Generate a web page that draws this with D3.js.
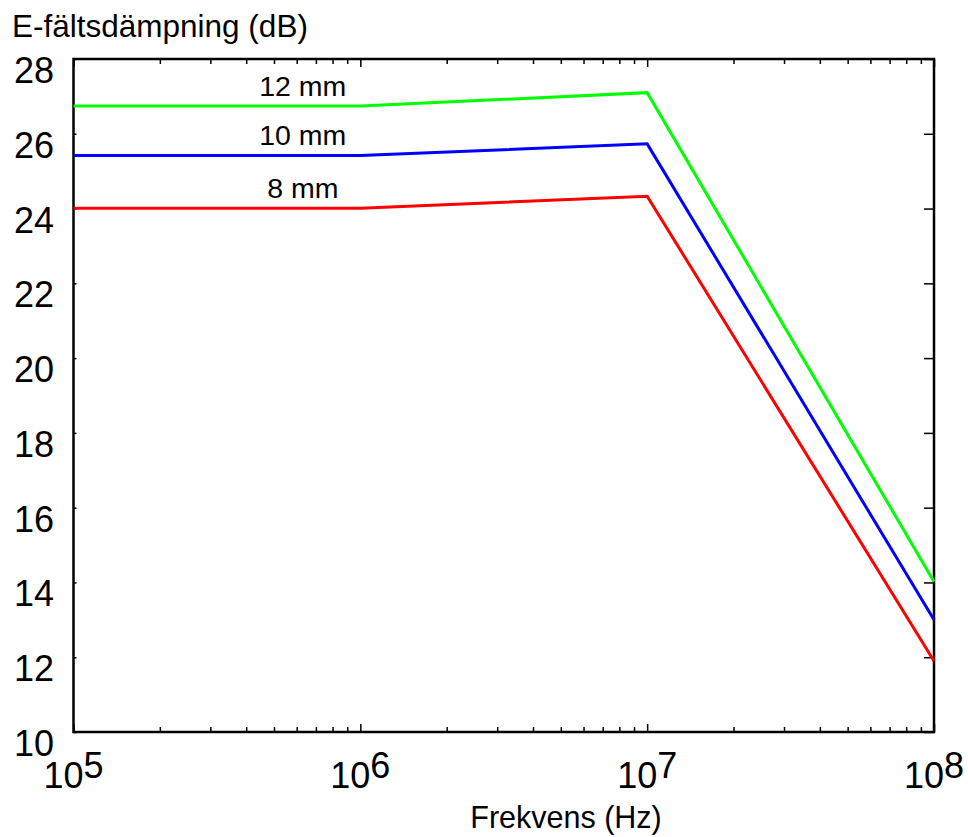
<!DOCTYPE html>
<html>
<head>
<meta charset="utf-8">
<script src="https://cdn.jsdelivr.net/npm/d3@7"></script>
<style>
  body { margin: 0; background: #fff; }
  svg { display: block; font-family: "Liberation Sans", Arial, sans-serif; }
</style>
</head>
<body>
<svg id="chart" width="968" height="837"></svg>
<script>
// ---- data ----
const frequencies = [1e5, 1e6, 1e7, 1e8];
const seriesNames = ["12 mm", "10 mm", "8 mm"];
const seriesColors = ["#00ff00", "#0000ff", "#ff0000"];
const values12mm = [26.74, 26.74, 27.10, 14.02];
const values10mm = [25.42, 25.42, 25.73, 13.00];
const values8mm  = [24.01, 24.01, 24.33, 11.90];
const yTicks = [10, 12, 14, 16, 18, 20, 22, 24, 26, 28];
const xMajorTicks = [1e5, 1e6, 1e7, 1e8];
const xExponents = ["5", "6", "7", "8"];
const yTitle = "E-fältsdämpning (dB)";
const xTitle = "Frekvens (Hz)";
const labelFreq = 6.3e5;

const series = [values12mm, values10mm, values8mm];

// ---- layout ----
const svg = d3.select("#chart");
const m = { left: 73.5, top: 59, right: 934, bottom: 732 };

const x = d3.scaleLog().domain([1e5, 1e8]).range([m.left, m.right]);
const y = d3.scaleLinear().domain([10, 28]).range([m.bottom, m.top]);

const xMinor = [];
for (let e = 5; e < 8; e++) for (let k = 2; k <= 9; k++) xMinor.push(k * Math.pow(10, e));

function styleAxis(g) {
  g.select(".domain").remove();
  g.selectAll("line").attr("stroke", "#000").attr("stroke-width", 1.5);
  g.selectAll("text").remove();
}

// bottom axis ticks
svg.append("g").attr("transform", `translate(0,${m.bottom})`)
  .call(d3.axisBottom(x).tickValues(xMinor).tickSize(-5).tickFormat(""))
  .call(styleAxis);
svg.append("g").attr("transform", `translate(0,${m.bottom})`)
  .call(d3.axisBottom(x).tickValues(xMajorTicks).tickSize(-8).tickFormat(""))
  .call(styleAxis);
// top axis ticks
svg.append("g").attr("transform", `translate(0,${m.top})`)
  .call(d3.axisTop(x).tickValues(xMinor).tickSize(-5).tickFormat(""))
  .call(styleAxis);
svg.append("g").attr("transform", `translate(0,${m.top})`)
  .call(d3.axisTop(x).tickValues(xMajorTicks).tickSize(-8).tickFormat(""))
  .call(styleAxis);
// right axis ticks
svg.append("g").attr("transform", `translate(${m.right},0)`)
  .call(d3.axisRight(y).tickValues(yTicks).tickSize(-10).tickFormat(""))
  .call(styleAxis);
// left axis ticks
svg.append("g").attr("transform", `translate(${m.left},0)`)
  .call(d3.axisLeft(y).tickValues(yTicks).tickSize(-3).tickFormat(""))
  .call(styleAxis);

// frame
svg.append("rect")
  .attr("x", m.left).attr("y", m.top)
  .attr("width", m.right - m.left).attr("height", m.bottom - m.top)
  .attr("fill", "none").attr("stroke", "#000").attr("stroke-width", 2.5);

// y tick labels
svg.append("g").selectAll("text").data(yTicks).join("text")
  .attr("x", 54).attr("y", d => y(d) + 24)
  .attr("text-anchor", "end")
  .attr("font-size", 36)
  .attr("fill", "#000")
  .text(d => d);

// x tick labels with superscripts
const xl = svg.append("g").selectAll("text").data(xMajorTicks).join("text")
  .attr("x", d => x(d)).attr("y", 788)
  .attr("text-anchor", "middle")
  .attr("font-size", 36)
  .attr("fill", "#000");
xl.append("tspan").text("10");
xl.append("tspan").attr("dy", -10).text((d, i) => xExponents[i]);

// lines
const line = d3.line().x((d, i) => x(frequencies[i])).y(d => y(d));
svg.append("g").selectAll("path").data(series).join("path")
  .attr("d", d => line(d))
  .attr("fill", "none")
  .attr("stroke", (d, i) => seriesColors[i])
  .attr("stroke-width", 3)
  .attr("stroke-linejoin", "miter");

// series labels
svg.append("g").selectAll("text").data(series).join("text")
  .attr("x", x(labelFreq))
  .attr("y", d => y(d[0]) - 10)
  .attr("text-anchor", "middle")
  .attr("font-size", 28.5)
  .attr("fill", "#000")
  .text((d, i) => seriesNames[i]);

// axis titles
svg.append("text")
  .attr("x", 12).attr("y", 37)
  .attr("font-size", 31.5).attr("fill", "#000")
  .text(yTitle);
svg.append("text")
  .attr("x", 566).attr("y", 828)
  .attr("text-anchor", "middle")
  .attr("font-size", 30.5).attr("fill", "#000")
  .text(xTitle);
</script>
</body>
</html>
